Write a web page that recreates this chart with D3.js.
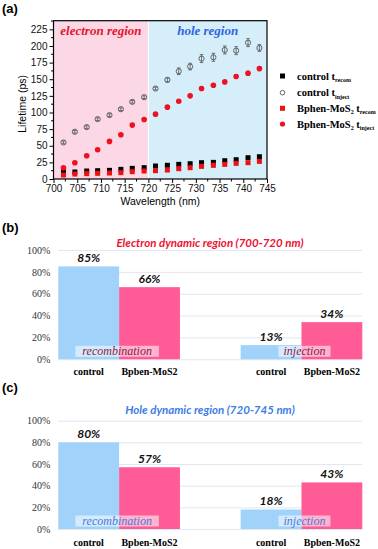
<!DOCTYPE html>
<html><head><meta charset="utf-8">
<script src="https://cdnjs.cloudflare.com/ajax/libs/d3/7.8.5/d3.min.js"></script>
<style>body{margin:0;background:#fff}svg{display:block}</style>
</head><body>
<script>
// ---- Panel (a) data ----
const wavelength = [702.1,704.5,707,709.3,711.8,714.2,716.6,719.1,721.5,724,726.4,728.8,731.2,733.7,736.1,738.5,741,743.4];
const controlRecom = [11,10.5,12,12.5,13,14.5,16,17,19.5,20.6,22,23,24.5,25,27.5,29,32,33.5];
const controlInject = [55,71,78,90,96,105,116,123,136,149,162,169,181,183,194,193,205,197];
const controlInjectErr = [2,2,2,2,2,2,2,2,2,3,5,5,6,6,6,6,6,5];
const bphenRecom = [6,7.5,8,8.5,9,9.5,11,12,12.5,13.5,15.5,17,19,20.5,22,23.5,24.5,26.5];
const bphenInject = [17,24.5,35,44,56.5,66.5,81,89.5,97.5,108,117,125,136,141,146,154,159,166];
const bphenInjectErr = [1,1,1,1,1,1,1,1,1,1,1,1,2,2,2,3,3,3];
const xTicksA = [700,705,710,715,720,725,730,735,740,745];
const yTicksA = [0,25,50,75,100,125,150,175,200,225];
const regions = [{name:"electron region", from:700, to:720}, {name:"hole region", from:720, to:745}];
const legendLabels = [["control t","recom"],["control t","inject"],["Bphen-MoS","2"," t","recom"],["Bphen-MoS","2"," t","inject"]];

// ---- Panels (b),(c) data ----
const barGroups = ["recombination","injection"];
const barSeries = ["control","Bpben-MoS2"];
const electronValues = [[85,66],[13,34]];
const holeValues = [[80,57],[18,43]];
const barYTicks = [0,20,40,60,80,100];

const W = 378, H = 549;
const svg = d3.select("body").append("svg").attr("width",W).attr("height",H);
const sans = "'Liberation Sans', Arial, sans-serif";
const serif = "'Liberation Serif', 'Times New Roman', serif";
const cal = "Lato, 'Open Sans', sans-serif";

// ================= Panel (a) =================
svg.append("text").attr("x",2).attr("y",13).attr("font-family",sans).attr("font-weight","bold")
  .attr("font-size",13).text("(a)");

const x = d3.scaleLinear().domain([700,745]).range([53.5,267]);
const y = d3.scaleLinear().domain([0,238]).range([179,20.7]);
const regionFill = ["#fcd7e6","#d5eef9"];
const regionText = ["#e8122c","#2f63e0"];
regions.forEach((r,i)=>{
  svg.append("rect").attr("x",x(r.from)).attr("y",y(238)).attr("width",x(r.to)-x(r.from))
    .attr("height",y(0)-y(238)).attr("fill",regionFill[i]);
  svg.append("text").attr("x",(x(r.from)+x(r.to))/2).attr("y",34.5).attr("text-anchor","middle")
    .attr("font-family",serif).attr("font-style","italic").attr("font-weight","bold")
    .attr("font-size",13).attr("fill",regionText[i]).text(r.name);
});
svg.append("line").attr("x1",x(720)).attr("x2",x(720)).attr("y1",y(238)).attr("y2",y(0))
  .attr("stroke","#fff").attr("stroke-width",1);

// axes
const gx = svg.append("g").attr("transform",`translate(0,${y(0)})`)
  .call(d3.axisBottom(x).tickValues(xTicksA).tickSize(4).tickSizeOuter(0).tickPadding(2).tickFormat(d3.format("d")));
const gy = svg.append("g").attr("transform",`translate(${x(700)},0)`)
  .call(d3.axisLeft(y).tickValues(yTicksA).tickSize(4).tickSizeOuter(0).tickPadding(2));
[gx,gy].forEach(g=>{ g.selectAll("text").attr("font-family",sans).attr("font-size",10).attr("fill","#111");
  g.select(".domain").remove(); g.selectAll("line").attr("stroke","#000"); });
// minor ticks
const xMinor = d3.range(702.5,745,5);
gx.selectAll(".minor").data(xMinor).enter().append("line").attr("x1",d=>x(d)).attr("x2",d=>x(d))
  .attr("y1",0).attr("y2",2.5).attr("stroke","#000");
const yMinor = d3.range(12.5,238,25);
gy.selectAll(".minor").data(yMinor).enter().append("line").attr("y1",d=>y(d)).attr("y2",d=>y(d))
  .attr("x1",0).attr("x2",-2.5).attr("stroke","#000");
svg.append("rect").attr("x",x(700)).attr("y",y(238)).attr("width",x(745)-x(700)).attr("height",y(0)-y(238))
  .attr("fill","none").attr("stroke","#000").attr("stroke-width",1.2);

svg.append("text").attr("transform",`translate(26,${(y(0)+y(238))/2+4}) rotate(-90)`).attr("text-anchor","middle")
  .attr("font-family",sans).attr("font-size",10.5).text("Lifetime (ps)");
svg.append("text").attr("x",(x(700)+x(745))/2).attr("y",205).attr("text-anchor","middle")
  .attr("font-family",sans).attr("font-size",10.5).text("Wavelength (nm)");

// error bars
function errBars(vals, errs, color){
  const g = svg.append("g").attr("stroke",color).attr("stroke-width",0.8);
  wavelength.forEach((w,i)=>{
    const cx = x(w);
    g.append("line").attr("x1",cx).attr("x2",cx).attr("y1",y(vals[i]-errs[i])).attr("y2",y(vals[i]+errs[i]));
    [vals[i]-errs[i], vals[i]+errs[i]].forEach(v=>g.append("line").attr("x1",cx-1.8).attr("x2",cx+1.8).attr("y1",y(v)).attr("y2",y(v)));
  });
}
errBars(controlInject, controlInjectErr, "#555");
errBars(bphenInject, bphenInjectErr, "#c00");

const pts = wavelength.map((w,i)=>({w,i}));
svg.append("g").selectAll("rect").data(pts).enter().append("rect")
  .attr("x",d=>x(d.w)-2.5).attr("y",d=>y(controlRecom[d.i])-2.5).attr("width",5).attr("height",5).attr("fill","#000");
svg.append("g").selectAll("rect").data(pts).enter().append("rect")
  .attr("x",d=>x(d.w)-2.5).attr("y",d=>y(bphenRecom[d.i])-2.5).attr("width",5).attr("height",5).attr("fill","#ee1111");
svg.append("g").selectAll("circle").data(pts).enter().append("circle")
  .attr("cx",d=>x(d.w)).attr("cy",d=>y(controlInject[d.i])).attr("r",2.6).attr("fill","none").attr("stroke","#555").attr("stroke-width",0.9);
svg.append("g").selectAll("circle").data(pts).enter().append("circle")
  .attr("cx",d=>x(d.w)).attr("cy",d=>y(bphenInject[d.i])).attr("r",2.8).attr("fill","#ee1122");

// legend
const legY = [76,92.7,108.3,124];
legendLabels.forEach((lab,i)=>{
  const ly = legY[i];
  if(i===0) svg.append("rect").attr("x",280).attr("y",ly-2.5).attr("width",5).attr("height",5).attr("fill","#000");
  if(i===1) svg.append("circle").attr("cx",282.5).attr("cy",ly).attr("r",2.3).attr("fill","none").attr("stroke","#555").attr("stroke-width",0.9);
  if(i===2) svg.append("rect").attr("x",280).attr("y",ly-2.5).attr("width",5).attr("height",5).attr("fill","#ee1111");
  if(i===3) svg.append("circle").attr("cx",282.5).attr("cy",ly).attr("r",2.6).attr("fill","#ee1122");
  const t = svg.append("text").attr("x",297).attr("y",ly+3.5).attr("font-family",serif).attr("font-weight","bold").attr("font-size",10.5);
  if(lab.length===2){
    t.append("tspan").text(lab[0]);
    t.append("tspan").attr("dy",2.5).attr("font-size",6).text(lab[1]);
  } else {
    t.append("tspan").text(lab[0]);
    t.append("tspan").attr("dy",2.5).attr("font-size",6).text(lab[1]);
    t.append("tspan").attr("dy",-2.5).text(lab[2]);
    t.append("tspan").attr("dy",2.5).attr("font-size",6).text(lab[3]);
  }
});

// ================= Bar panels =================
function barPanel(opt){
  svg.append("text").attr("x",2).attr("y",opt.labelY).attr("font-family",sans).attr("font-weight","bold")
    .attr("font-size",13).text(opt.label);
  const yb = d3.scaleLinear().domain([0,100]).range([opt.y0,opt.y100]);
  const xg = d3.scaleBand().domain(barGroups).range([58.3,362.3]).paddingInner(0.333).paddingOuter(0);
  const xs = d3.scaleBand().domain(barSeries).range([0,xg.bandwidth()]);
  svg.append("text").attr("x",210).attr("y",opt.titleY).attr("text-anchor","middle").attr("font-family",cal)
    .attr("font-weight","bold").attr("font-style","italic").attr("font-size",11.5).attr("fill",opt.titleColor).text(opt.title);
  const ga = svg.append("g").attr("transform","translate(58.3,0)")
    .call(d3.axisLeft(yb).tickValues(barYTicks).tickSize(-304).tickPadding(8).tickFormat(d=>d+"%"));
  ga.select(".domain").remove();
  ga.selectAll("line").attr("stroke","#dfe7ef");
  ga.selectAll("text").attr("font-family",serif).attr("font-size",10).attr("fill","#333");
  const colors = ["#a0d2fa","#ff5b97"];
  barGroups.forEach((gname,gi)=>{
    barSeries.forEach((s,si)=>{
      const v = opt.values[gi][si];
      const bx = xg(gname)+xs(s);
      svg.append("rect").attr("x",bx).attr("y",yb(v)).attr("width",xs.bandwidth()).attr("height",yb(0)-yb(v)).attr("fill",colors[si]);
      svg.append("text").attr("x",bx+xs.bandwidth()/2).attr("y",yb(v)-4.5).attr("text-anchor","middle")
        .attr("font-family",cal).attr("font-weight","bold").attr("font-style","italic").attr("font-size",12).attr("fill","#111").text(v+"%");
      svg.append("text").attr("x",bx+xs.bandwidth()/2).attr("y",opt.catY).attr("text-anchor","middle")
        .attr("font-family",serif).attr("font-weight","bold").attr("font-size",10).attr("fill","#000").text(s);
    });
    const cx = xg(gname)+xg.bandwidth()/2 + (gi===0?-2:3);
    const box = svg.append("rect").attr("fill","#fff").attr("fill-opacity",0.55);
    const t = svg.append("text").attr("x",cx).attr("y",yb(0)-4.5).attr("text-anchor","middle")
      .attr("font-family",serif).attr("font-style","italic").attr("font-size",12).attr("fill",opt.boxColor).text(gname);
    const bb = t.node().getBBox();
    const pad = gi===0?7:5;
    box.attr("x",bb.x-pad).attr("y",yb(0)-13.5).attr("width",bb.width+2*pad).attr("height",11);
  });
}
barPanel({label:"(b)",labelY:232,title:"Electron dynamic region (700-720 nm)",titleColor:"#ee1133",titleY:247,
  y0:359.3,y100:250,values:electronValues,catY:375,boxColor:"#8c1a44"});
barPanel({label:"(c)",labelY:392,title:"Hole dynamic region (720-745 nm)",titleColor:"#3c7ee6",titleY:414,
  y0:529,y100:420.7,values:holeValues,catY:546,boxColor:"#4a78d8"});
</script>
</body></html>
